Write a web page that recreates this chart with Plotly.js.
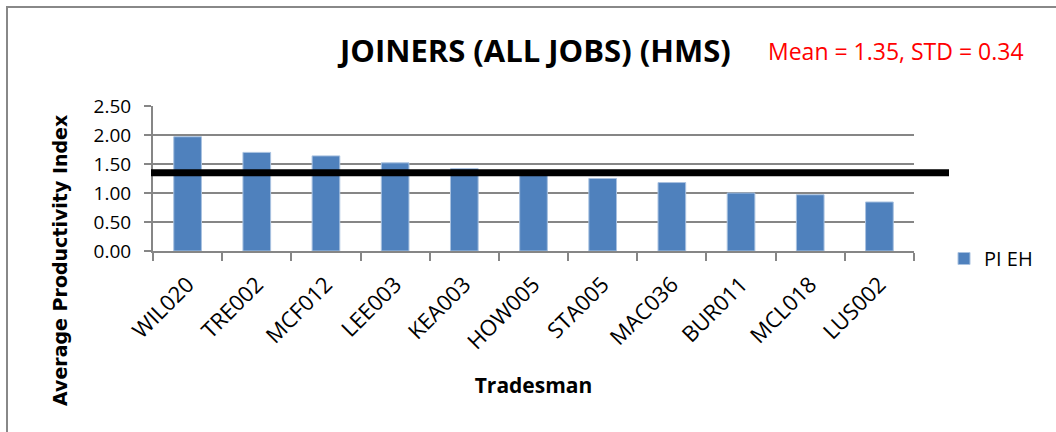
<!DOCTYPE html>
<html>
<head>
<meta charset="utf-8">
<script src="https://cdn.plot.ly/plotly-3.0.1.min.js"></script>
<style>html,body{margin:0;padding:0;background:#fff;}#chart{width:1056px;height:432px;}</style>
</head>
<body>
<div id="chart"></div>
<script>
const tradesmen = ["WIL020","TRE002","MCF012","LEE003","KEA003","HOW005","STA005","MAC036","BUR011","MCL018","LUS002"];
const piEH = [1.97, 1.70, 1.64, 1.52, 1.42, 1.34, 1.25, 1.18, 1.00, 0.97, 0.845];
const meanValue = 1.35;
const stdValue = 0.34;
const yTicks = [0, 0.5, 1.0, 1.5, 2.0, 2.5];
const seriesName = "PI EH";

const F = "'Open Sans', 'Liberation Sans', sans-serif";
const FV = "'DejaVu Sans', Verdana, sans-serif";

const L = 153, R = 914, T = 106, B = 251, W = 1056, H = 432;
const px = x => (x - L) / (R - L);
const py = y => (B - y) / (B - T);

const data = [{
  type: 'bar',
  x: tradesmen,
  y: piEH,
  name: seriesName,
  marker: {color: '#4F81BD', line: {color: '#A9C2E0', width: 1}},
  showlegend: true
}];

const layout = {
  width: W, height: H,
  margin: {l: L, r: W - R, t: T, b: H - B, pad: 0},
  paper_bgcolor: '#fff', plot_bgcolor: '#fff',
  font: {family: F, color: '#000', size: 19},
  bargap: 0.6,
  showlegend: true,
  legend: {x: px(944), y: py(239), xanchor: 'left', yanchor: 'top', font: {size: 20, family: F},
           bgcolor: 'rgba(0,0,0,0)', itemwidth: 30, traceorder: 'normal'},
  xaxis: {
    type: 'category',
    tickangle: -45,
    tickfont: {size: 22, family: F},
    ticks: 'outside', tickson: 'boundaries', ticklen: 8, tickwidth: 2, tickcolor: '#868686',
    ticklabelstandoff: 10,
    showline: true, linecolor: '#868686', linewidth: 2,
    showgrid: false,
    title: {text: '<b>Tradesman</b>', font: {size: 21, family: F}, standoff: 24}
  },
  yaxis: {
    range: [0, 2.5],
    tickvals: yTicks,
    ticktext: yTicks.map(v => v.toFixed(2)),
    tickfont: {size: 19, family: F},
    ticks: 'outside', ticklen: 7, tickwidth: 2, tickcolor: '#868686',
    ticklabelstandoff: 9,
    showline: true, linecolor: '#868686', linewidth: 2,
    showgrid: true, gridcolor: '#868686', gridwidth: 2,
    zeroline: false
  },
  shapes: [
    {type: 'line', xref: 'paper', yref: 'y', x0: px(151), x1: px(949), y0: meanValue, y1: meanValue,
     line: {color: '#000', width: 7}, layer: 'above'},
    {type: 'rect', xref: 'paper', yref: 'paper', x0: px(7), x1: px(1070), y0: py(440), y1: py(7),
     line: {color: '#888', width: 2}, fillcolor: 'rgba(0,0,0,0)', layer: 'below'}
  ],
  annotations: [
    {text: '<b>JOINERS (ALL JOBS) (HMS)</b>', xref: 'paper', yref: 'paper', x: px(534), y: py(50),
     xanchor: 'center', yanchor: 'middle', showarrow: false, font: {size: 31, family: F, color: '#000'}},
    {text: 'Mean = ' + meanValue.toFixed(2) + ', STD = ' + stdValue.toFixed(2), xref: 'paper', yref: 'paper',
     x: px(896), y: py(51), xanchor: 'center', yanchor: 'middle', showarrow: false,
     font: {size: 23, family: F, color: '#FF0000'}},
    {text: '<b>Average Productivity Index</b>', xref: 'paper', yref: 'paper', x: px(60), y: py(261),
     xanchor: 'center', yanchor: 'middle', textangle: -90, showarrow: false,
     font: {size: 19, family: FV, color: '#000'}}
  ]
};

Plotly.newPlot('chart', data, layout, {displayModeBar: false, staticPlot: true});
</script>
</body>
</html>
